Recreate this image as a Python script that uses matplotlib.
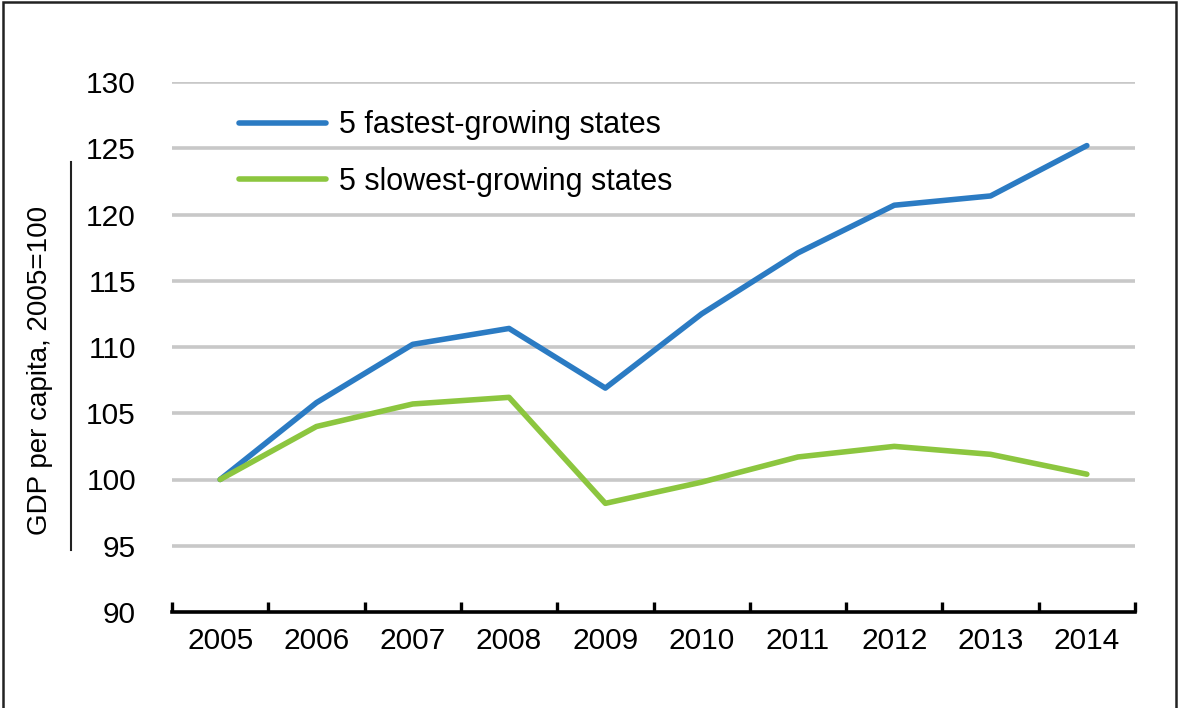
import matplotlib
matplotlib.use("Agg")
import matplotlib.pyplot as plt
from matplotlib import font_manager
from matplotlib.lines import Line2D
from matplotlib.patches import Rectangle
from matplotlib.ticker import MultipleLocator

nombres = {f.name for f in font_manager.fontManager.ttflist}
angosta = 'Liberation Sans Narrow' in nombres
if angosta:
    plt.rcParams['font.family'] = ['Liberation Sans Narrow', 'DejaVu Sans']
    fs_ticks, fs_leg, fs_lab = 25.5, 26, 23.8
else:
    plt.rcParams['font.family'] = ['Liberation Sans', 'DejaVu Sans']
    fs_ticks, fs_leg, fs_lab = 21.5, 22, 20

# datos
anios = ['2005', '2006', '2007', '2008', '2009', '2010', '2011', '2012', '2013', '2014']
rapidos = [100, 105.8, 110.2, 111.4, 106.9, 112.5, 117.1, 120.7, 121.4, 125.2]
lentos = [100, 104.0, 105.7, 106.2, 98.2, 99.8, 101.7, 102.5, 101.9, 100.4]
etiquetas = ['5 fastest-growing states', '5 slowest-growing states']
y_ticks = [90, 95, 100, 105, 110, 115, 120, 125, 130]

azul = '#2B7BC3'
verde = '#8CC63F'

W, H = 1179, 708
fig = plt.figure(figsize=(W/100, H/100), dpi=100)
ax = fig.add_axes([172/W, 1-612/H, (1135-172)/W, (612-82)/H])

x = list(range(len(anios)))
ax.plot(x, rapidos, color=azul, lw=4, solid_capstyle='round', label=etiquetas[0], zorder=3)
ax.plot(x, lentos, color=verde, lw=4, solid_capstyle='round', label=etiquetas[1], zorder=3)

ax.set_xlim(-0.5, len(anios)-0.5)
ax.set_ylim(90, 130)
ax.set_yticks(y_ticks)
ax.set_yticklabels([str(v) for v in y_ticks])
ax.set_xticks(x)
ax.set_xticklabels(anios)

# grilla horizontal (sin la del 90, que es el eje)
for v in y_ticks[1:]:
    ax.axhline(v, color='#C8C8C8', lw=2.6, zorder=1)

for s in ['top', 'right', 'left']:
    ax.spines[s].set_visible(False)
ax.spines['bottom'].set_linewidth(2.6)
ax.spines['bottom'].set_zorder(4)

ax.tick_params(axis='y', length=0, pad=26, labelsize=fs_ticks)
ax.tick_params(axis='x', which='major', length=0, pad=11, labelsize=fs_ticks)
ax.xaxis.set_minor_locator(MultipleLocator(1, offset=0.5))
ax.tick_params(axis='x', which='minor', direction='in', length=7.5, width=2.4)

ax.set_ylabel('GDP per capita, 2005=100', fontsize=fs_lab, va='center')
ax.yaxis.set_label_coords((40-172)/963, (612-370)/530)

leg = ax.legend(loc='upper left', bbox_to_anchor=(55/963, 1-16/530), frameon=False,
                fontsize=fs_leg, handlelength=2.85, handletextpad=0.4, labelspacing=0.88,
                borderaxespad=0)

# barra vertical junto al titulo del eje
fig.add_artist(Line2D([71/W, 71/W], [1-162/H, 1-550/H], color='#222222', lw=1.5))
# marco
fig.add_artist(Rectangle((3/W, -0.02), (1176-3)/W, 1.02-2/H, fill=False,
                         edgecolor='#222222', lw=1.8))

fig.savefig('out.png', dpi=100)
